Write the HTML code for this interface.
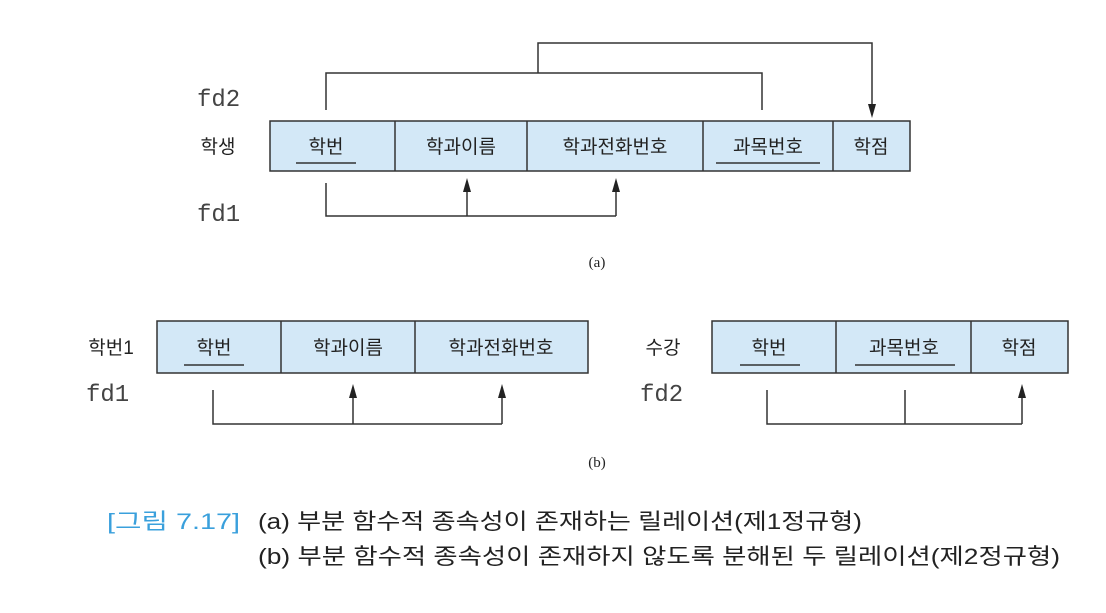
<!DOCTYPE html>
<html><head><meta charset="utf-8"><style>
body{margin:0;background:#fff;width:1106px;height:608px;overflow:hidden}
svg text{font-family:"Liberation Sans","Noto Sans CJK KR",sans-serif;fill:#222}
</style></head><body>
<svg width="1106" height="608" viewBox="0 0 1106 608" xmlns="http://www.w3.org/2000/svg">
<g stroke="#333" stroke-width="1.5" fill="none">
<rect x="270" y="121" width="640" height="50" fill="#d3e8f7"/>
<line x1="395" y1="121" x2="395" y2="171"/><line x1="527" y1="121" x2="527" y2="171"/><line x1="703" y1="121" x2="703" y2="171"/><line x1="833" y1="121" x2="833" y2="171"/>
<polyline points="326,110 326,73 762,73 762,110"/>
<polyline points="538,73 538,43 872,43 872,106"/>
<polyline points="326,183 326,216 616,216"/>
<line x1="467" y1="216" x2="467" y2="190"/>
<line x1="616" y1="216" x2="616" y2="190"/>
<rect x="157" y="321" width="431" height="52" fill="#d3e8f7"/>
<line x1="281" y1="321" x2="281" y2="373"/><line x1="415" y1="321" x2="415" y2="373"/>
<rect x="712" y="321" width="356" height="52" fill="#d3e8f7"/>
<line x1="836" y1="321" x2="836" y2="373"/><line x1="971" y1="321" x2="971" y2="373"/>
<polyline points="213,390 213,424 502,424"/>
<line x1="353" y1="424" x2="353" y2="396"/>
<line x1="502" y1="424" x2="502" y2="396"/>
<polyline points="767,390 767,424 1022,424"/>
<line x1="905" y1="424" x2="905" y2="390"/>
<line x1="1022" y1="424" x2="1022" y2="396"/>
<line x1="296" y1="163" x2="356" y2="163"/><line x1="716" y1="163" x2="820" y2="163"/>
<line x1="184" y1="365" x2="244" y2="365"/><line x1="740" y1="365" x2="800" y2="365"/><line x1="855" y1="365" x2="955" y2="365"/>
</g>
<g fill="#222">
<path d="M868,104 L872,118 L876,104 Z"/>
<path d="M463,192 L467,178 L471,192 Z"/><path d="M612,192 L616,178 L620,192 Z"/>
<path d="M349,398 L353,384 L357,398 Z"/><path d="M498,398 L502,384 L506,398 Z"/><path d="M1018,398 L1022,384 L1026,398 Z"/>
</g>
<g font-size="19" text-anchor="middle">
<text x="326" y="153">학번</text><text x="461" y="153">학과이름</text><text x="615" y="153">학과전화번호</text><text x="768" y="153">과목번호</text><text x="871" y="153">학점</text>
<text x="214" y="354">학번</text><text x="348" y="354">학과이름</text><text x="501" y="354">학과전화번호</text>
<text x="769" y="354">학번</text><text x="904" y="354">과목번호</text><text x="1019" y="354">학점</text>
<text x="218" y="153">학생</text><text x="111" y="354">학번1</text><text x="663" y="354">수강</text>
</g>
<g font-size="24"><text style="font-family:'Liberation Mono',monospace;fill:#444" x="197" y="106">fd2</text><text style="font-family:'Liberation Mono',monospace;fill:#444" x="197" y="221">fd1</text><text style="font-family:'Liberation Mono',monospace;fill:#444" x="86" y="401">fd1</text><text style="font-family:'Liberation Mono',monospace;fill:#444" x="640" y="401">fd2</text></g>
<g font-size="15" text-anchor="middle"><text x="597" y="267" style="font-family:'Liberation Serif',serif">(a)</text><text x="597" y="467" style="font-family:'Liberation Serif',serif">(b)</text></g>
<g font-size="22"><text x="107" y="529" textLength="133" lengthAdjust="spacingAndGlyphs" style="fill:#3aa0dc">[그림 7.17]</text><text x="258" y="529" textLength="604" lengthAdjust="spacingAndGlyphs">(a) 부분 함수적 종속성이 존재하는 릴레이션(제1정규형)</text>
<text x="258" y="564" textLength="802" lengthAdjust="spacingAndGlyphs">(b) 부분 함수적 종속성이 존재하지 않도록 분해된 두 릴레이션(제2정규형)</text></g>
</svg>
</body></html>
